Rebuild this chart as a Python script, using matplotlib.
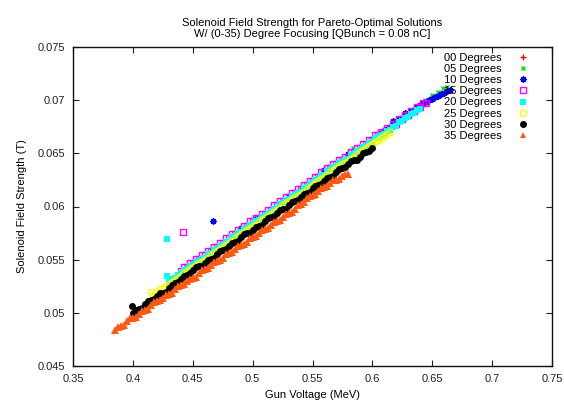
import matplotlib.pyplot as plt
from matplotlib.ticker import FuncFormatter

plt.rcParams['font.family'] = ['Liberation Sans', 'DejaVu Sans']
plt.rcParams['font.size'] = 8

# Pareto-optimal solutions: gun voltage (MeV) vs. solenoid field (T), one set per focusing angle
gun_00 = [0.470, 0.520, 0.570, 0.620, 0.648, 0.658]
sol_00 = [0.0561, 0.0599, 0.0638, 0.0677, 0.0701, 0.0706]

gun_05 = [0.452, 0.502, 0.540, 0.584, 0.610, 0.636, 0.644, 0.650, 0.655, 0.659, 0.662]
sol_05 = [0.0550, 0.0590, 0.0618, 0.0655, 0.0673, 0.0694, 0.0700, 0.0705, 0.0708, 0.0711, 0.0712]

gun_10 = [0.467, 0.466, 0.490, 0.504, 0.530, 0.560, 0.580,
          0.6000, 0.6025, 0.6050, 0.6075, 0.6100, 0.6125, 0.6150, 0.6175, 0.6200,
          0.6225, 0.6250, 0.6275, 0.6300, 0.6325, 0.6350, 0.6375, 0.6400, 0.6425,
          0.6450, 0.6475, 0.6500, 0.6525, 0.6550, 0.6575, 0.6600, 0.6625, 0.6650]
sol_10 = [0.0586, 0.0559, 0.0580, 0.0588, 0.0610, 0.0634, 0.0649,
          0.0662, 0.0665, 0.0666, 0.0669, 0.0670, 0.0673, 0.0675, 0.0680, 0.0679,
          0.0682, 0.0683, 0.0688, 0.0687, 0.0690, 0.0691, 0.0694, 0.0695, 0.0697,
          0.0698, 0.0700, 0.0701, 0.0703, 0.0704, 0.0706, 0.0707, 0.0709, 0.0710]

gun_15 = [0.442,
          0.4400, 0.4425, 0.4450, 0.4475, 0.4500, 0.4525, 0.4550, 0.4575, 0.4600, 0.4625,
          0.4650, 0.4675, 0.4700, 0.4725, 0.4750, 0.4775, 0.4800, 0.4825, 0.4850, 0.4875,
          0.4900, 0.4925, 0.4950, 0.4975, 0.5000, 0.5025, 0.5050, 0.5075, 0.5100, 0.5125,
          0.5150, 0.5175, 0.5200, 0.5225, 0.5250, 0.5275, 0.5300, 0.5325, 0.5350, 0.5375,
          0.5400, 0.5425, 0.5450, 0.5475, 0.5500, 0.5525, 0.5550, 0.5575, 0.5600, 0.5625,
          0.5650, 0.5675, 0.5700, 0.5725, 0.5750, 0.5775, 0.5800, 0.5825, 0.5850, 0.5875,
          0.5900, 0.5925, 0.5950, 0.5975, 0.6000, 0.6025, 0.6050, 0.6075, 0.6100, 0.6125,
          0.6150, 0.6175, 0.6200, 0.6225, 0.6250, 0.6275, 0.6300, 0.6325, 0.6350, 0.6375,
          0.6400, 0.6425, 0.6450]
sol_15 = [0.0576,
          0.0539, 0.0543, 0.0543, 0.0547, 0.0547, 0.0551, 0.0551, 0.0554, 0.0554, 0.0558,
          0.0558, 0.0562, 0.0562, 0.0566, 0.0566, 0.0570, 0.0570, 0.0574, 0.0574, 0.0578,
          0.0578, 0.0582, 0.0582, 0.0586, 0.0586, 0.0589, 0.0589, 0.0593, 0.0593, 0.0597,
          0.0597, 0.0601, 0.0601, 0.0605, 0.0605, 0.0609, 0.0609, 0.0613, 0.0613, 0.0616,
          0.0616, 0.0620, 0.0620, 0.0624, 0.0624, 0.0628, 0.0628, 0.0632, 0.0632, 0.0636,
          0.0636, 0.0640, 0.0640, 0.0644, 0.0644, 0.0647, 0.0647, 0.0651, 0.0651, 0.0655,
          0.0655, 0.0659, 0.0659, 0.0663, 0.0663, 0.0667, 0.0667, 0.0670, 0.0670, 0.0674,
          0.0674, 0.0678, 0.0678, 0.0682, 0.0682, 0.0686, 0.0686, 0.0690, 0.0690, 0.0694,
          0.0694, 0.0697, 0.0697]

gun_20 = [0.4285, 0.4285,
          0.4300, 0.4325, 0.4350, 0.4375, 0.4400, 0.4425, 0.4450, 0.4475, 0.4500, 0.4525,
          0.4550, 0.4575, 0.4600, 0.4625, 0.4650, 0.4675, 0.4700, 0.4725, 0.4750, 0.4775,
          0.4800, 0.4825, 0.4850, 0.4875, 0.4900, 0.4925, 0.4950, 0.4975, 0.5000, 0.5025,
          0.5050, 0.5075, 0.5100, 0.5125, 0.5150, 0.5175, 0.5200, 0.5225, 0.5250, 0.5275,
          0.5300, 0.5325, 0.5350, 0.5375, 0.5400, 0.5425, 0.5450, 0.5475, 0.5500, 0.5525,
          0.5550, 0.5575, 0.5600, 0.5625, 0.5650, 0.5675, 0.5700, 0.5725, 0.5750, 0.5775,
          0.5800, 0.5825, 0.5850, 0.5875, 0.5900, 0.5925, 0.5950, 0.5975, 0.6000, 0.6025,
          0.6050, 0.6075, 0.6100, 0.6125, 0.6150, 0.6175, 0.6200, 0.6225, 0.6250, 0.6275,
          0.6300, 0.6325, 0.6350, 0.6375, 0.6400]
sol_20 = [0.0569, 0.0535,
          0.0529, 0.0532, 0.0533, 0.0536, 0.0537, 0.0540, 0.0541, 0.0544, 0.0545, 0.0548,
          0.0549, 0.0551, 0.0552, 0.0555, 0.0556, 0.0559, 0.0560, 0.0563, 0.0564, 0.0567,
          0.0568, 0.0571, 0.0572, 0.0575, 0.0576, 0.0579, 0.0580, 0.0583, 0.0584, 0.0586,
          0.0587, 0.0590, 0.0591, 0.0594, 0.0595, 0.0598, 0.0599, 0.0602, 0.0603, 0.0606,
          0.0607, 0.0610, 0.0611, 0.0613, 0.0614, 0.0617, 0.0618, 0.0621, 0.0622, 0.0625,
          0.0626, 0.0629, 0.0630, 0.0633, 0.0634, 0.0637, 0.0638, 0.0641, 0.0642, 0.0644,
          0.0645, 0.0648, 0.0649, 0.0652, 0.0653, 0.0656, 0.0657, 0.0660, 0.0661, 0.0664,
          0.0665, 0.0667, 0.0668, 0.0671, 0.0672, 0.0675, 0.0676, 0.0679, 0.0680, 0.0683,
          0.0684, 0.0687, 0.0688, 0.0691, 0.0692]

gun_25 = [0.4150, 0.4175, 0.4200, 0.4225, 0.4250, 0.4275, 0.4300, 0.4325, 0.4350, 0.4375,
          0.4400, 0.4425, 0.4450, 0.4475, 0.4500, 0.4525, 0.4550, 0.4575, 0.4600, 0.4625,
          0.4650, 0.4675, 0.4700, 0.4725, 0.4750, 0.4775, 0.4800, 0.4825, 0.4850, 0.4875,
          0.4900, 0.4925, 0.4950, 0.4975, 0.5000, 0.5025, 0.5050, 0.5075, 0.5100, 0.5125,
          0.5150, 0.5175, 0.5200, 0.5225, 0.5250, 0.5275, 0.5300, 0.5325, 0.5350, 0.5375,
          0.5400, 0.5425, 0.5450, 0.5475, 0.5500, 0.5525, 0.5550, 0.5575, 0.5600, 0.5625,
          0.5650, 0.5675, 0.5700, 0.5725, 0.5750, 0.5775, 0.5800, 0.5825, 0.5850, 0.5875,
          0.5900, 0.5925, 0.5950, 0.5975, 0.6000, 0.6025, 0.6050, 0.6075, 0.6100, 0.6125,
          0.6150]
sol_25 = [0.0520, 0.0517, 0.0520, 0.0522, 0.0523, 0.0525, 0.0527, 0.0529, 0.0531, 0.0533,
          0.0535, 0.0537, 0.0539, 0.0541, 0.0543, 0.0545, 0.0547, 0.0548, 0.0550, 0.0552,
          0.0554, 0.0556, 0.0558, 0.0560, 0.0562, 0.0564, 0.0566, 0.0568, 0.0570, 0.0572,
          0.0574, 0.0576, 0.0578, 0.0580, 0.0582, 0.0583, 0.0585, 0.0587, 0.0589, 0.0591,
          0.0593, 0.0595, 0.0597, 0.0599, 0.0601, 0.0603, 0.0605, 0.0607, 0.0609, 0.0610,
          0.0612, 0.0614, 0.0616, 0.0618, 0.0620, 0.0622, 0.0624, 0.0626, 0.0628, 0.0630,
          0.0632, 0.0634, 0.0636, 0.0638, 0.0640, 0.0641, 0.0643, 0.0645, 0.0647, 0.0649,
          0.0651, 0.0653, 0.0655, 0.0657, 0.0659, 0.0661, 0.0663, 0.0664, 0.0666, 0.0668,
          0.0670]

gun_30 = [0.399,
          0.4000, 0.4025, 0.4050, 0.4075, 0.4100, 0.4125, 0.4150, 0.4175, 0.4200, 0.4225,
          0.4250, 0.4275, 0.4300, 0.4325, 0.4350, 0.4375, 0.4400, 0.4425, 0.4450, 0.4475,
          0.4500, 0.4525, 0.4550, 0.4575, 0.4600, 0.4625, 0.4650, 0.4675, 0.4700, 0.4725,
          0.4750, 0.4775, 0.4800, 0.4825, 0.4850, 0.4875, 0.4900, 0.4925, 0.4950, 0.4975,
          0.5000, 0.5025, 0.5050, 0.5075, 0.5100, 0.5125, 0.5150, 0.5175, 0.5200, 0.5225,
          0.5250, 0.5275, 0.5300, 0.5325, 0.5350, 0.5375, 0.5400, 0.5425, 0.5450, 0.5475,
          0.5500, 0.5525, 0.5550, 0.5575, 0.5600, 0.5625, 0.5650, 0.5675, 0.5700, 0.5725,
          0.5750, 0.5775, 0.5800, 0.5825, 0.5850, 0.5875, 0.5900, 0.5925, 0.5950, 0.5975,
          0.6000]
sol_30 = [0.0506,
          0.0500, 0.0503, 0.0504, 0.0505, 0.0508, 0.0511, 0.0512, 0.0513, 0.0516, 0.0519,
          0.0519, 0.0520, 0.0523, 0.0526, 0.0528, 0.0529, 0.0532, 0.0535, 0.0536, 0.0537,
          0.0540, 0.0543, 0.0544, 0.0544, 0.0547, 0.0550, 0.0551, 0.0552, 0.0555, 0.0558,
          0.0559, 0.0560, 0.0563, 0.0566, 0.0567, 0.0568, 0.0571, 0.0574, 0.0575, 0.0575,
          0.0578, 0.0581, 0.0582, 0.0583, 0.0586, 0.0589, 0.0590, 0.0591, 0.0594, 0.0597,
          0.0598, 0.0598, 0.0601, 0.0604, 0.0605, 0.0606, 0.0609, 0.0612, 0.0613, 0.0614,
          0.0617, 0.0619, 0.0620, 0.0621, 0.0624, 0.0627, 0.0628, 0.0629, 0.0632, 0.0635,
          0.0636, 0.0637, 0.0640, 0.0643, 0.0644, 0.0644, 0.0647, 0.0650, 0.0651, 0.0652,
          0.0655]

gun_35 = [0.3850, 0.3875, 0.3900, 0.3925, 0.3950, 0.3975, 0.4000, 0.4025, 0.4050, 0.4075,
          0.4100, 0.4125, 0.4150, 0.4175, 0.4200, 0.4225, 0.4250, 0.4275, 0.4300, 0.4325,
          0.4350, 0.4375, 0.4400, 0.4425, 0.4450, 0.4475, 0.4500, 0.4525, 0.4550, 0.4575,
          0.4600, 0.4625, 0.4650, 0.4675, 0.4700, 0.4725, 0.4750, 0.4775, 0.4800, 0.4825,
          0.4850, 0.4875, 0.4900, 0.4925, 0.4950, 0.4975, 0.5000, 0.5025, 0.5050, 0.5075,
          0.5100, 0.5125, 0.5150, 0.5175, 0.5200, 0.5225, 0.5250, 0.5275, 0.5300, 0.5325,
          0.5350, 0.5375, 0.5400, 0.5425, 0.5450, 0.5475, 0.5500, 0.5525, 0.5550, 0.5575,
          0.5600, 0.5625, 0.5650, 0.5675, 0.5700, 0.5725, 0.5750, 0.5775, 0.5800]
sol_35 = [0.0484, 0.0487, 0.0488, 0.0489, 0.0492, 0.0495, 0.0495, 0.0496, 0.0499, 0.0502,
          0.0503, 0.0504, 0.0507, 0.0510, 0.0511, 0.0512, 0.0514, 0.0517, 0.0518, 0.0519,
          0.0522, 0.0525, 0.0526, 0.0527, 0.0530, 0.0532, 0.0533, 0.0534, 0.0537, 0.0540,
          0.0541, 0.0542, 0.0545, 0.0548, 0.0549, 0.0550, 0.0552, 0.0555, 0.0556, 0.0557,
          0.0560, 0.0563, 0.0564, 0.0565, 0.0567, 0.0570, 0.0571, 0.0572, 0.0575, 0.0578,
          0.0579, 0.0580, 0.0583, 0.0585, 0.0586, 0.0587, 0.0590, 0.0593, 0.0594, 0.0595,
          0.0598, 0.0601, 0.0602, 0.0604, 0.0608, 0.0610, 0.0611, 0.0612, 0.0615, 0.0617,
          0.0618, 0.0619, 0.0622, 0.0625, 0.0625, 0.0626, 0.0629, 0.0631, 0.0631]

labels = ['00 Degrees', '05 Degrees', '10 Degrees', '15 Degrees',
          '20 Degrees', '25 Degrees', '30 Degrees', '35 Degrees']

# gnuplot-like point styles for each angle
styles = [
    dict(marker='+', color='#ff0000', ms=4.5, mew=1),
    dict(marker='x', color='#00e000', ms=3.5, mew=1),
    dict(marker=(8, 2, 0), color='#0000ff', ms=4.5, mew=1),
    dict(marker='s', color='#ff00ff', mfc='none', ms=4, mew=1),
    dict(marker='s', color='#00ffff', ms=4, mew=0),
    dict(marker='o', color='#ffff00', mfc='none', ms=4.5, mew=1),
    dict(marker='o', color='#000000', ms=5, mew=0),
    dict(marker='^', color='#ff5a14', ms=6, mew=0),
]

series = [(gun_00, sol_00), (gun_05, sol_05), (gun_10, sol_10), (gun_15, sol_15),
          (gun_20, sol_20), (gun_25, sol_25), (gun_30, sol_30), (gun_35, sol_35)]

fig = plt.figure(figsize=(5.64, 4.08), dpi=100)
ax = fig.add_axes([73 / 564, 42 / 408, 479 / 564, 319 / 408])

for (x, y), lab, st in zip(series, labels, styles):
    ax.plot(x, y, linestyle='none', label=lab, **st)

ax.set_xlim(0.35, 0.75)
ax.set_ylim(0.045, 0.075)
ax.set_xticks([0.35, 0.4, 0.45, 0.5, 0.55, 0.6, 0.65, 0.7, 0.75])
ax.set_yticks([0.045, 0.05, 0.055, 0.06, 0.065, 0.07, 0.075])
fmt = FuncFormatter(lambda v, pos: '%g' % v)
ax.xaxis.set_major_formatter(fmt)
ax.yaxis.set_major_formatter(fmt)
ax.tick_params(direction='in', top=True, right=True, length=4.5, width=0.8,
               labelsize=8, colors='#222222')
ax.tick_params(axis='x', pad=6)
ax.tick_params(axis='y', pad=5.5)
for s in ax.spines.values():
    s.set_linewidth(1.0)
    s.set_color('#111111')

ax.set_xlabel('Gun Voltage (MeV)', labelpad=4)
ax.set_ylabel('Solenoid Field Strength (T)', labelpad=8)
ax.set_title('Solenoid Field Strength for Pareto-Optimal Solutions\n'
             'W/ (0-35) Degree Focusing [QBunch = 0.08 nC]',
             fontsize=8, pad=7, linespacing=1.1)

leg = ax.legend(loc='upper right', bbox_to_anchor=(0.96, 0.995), frameon=False,
                markerfirst=False, handlelength=1.0, handletextpad=1.4,
                labelspacing=0.1, borderaxespad=0, fontsize=8)
# keep legend symbols at the regular point size
for h, st in zip(leg.legend_handles, styles):
    h.set_markersize(min(st['ms'], 5))

fig.savefig('out.png', dpi=100)
